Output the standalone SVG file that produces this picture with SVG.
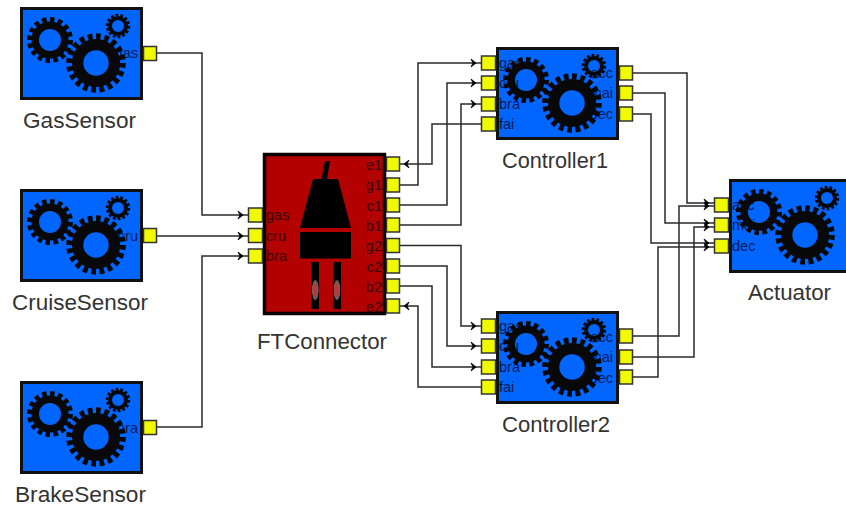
<svg xmlns="http://www.w3.org/2000/svg" width="846" height="507" viewBox="0 0 846 507">
<style>
text{font-family:"Liberation Sans",Arial,sans-serif}
.blue{fill:#0066ff;stroke:#111;stroke-width:3}
.red{fill:#b30000;stroke:#0a0000;stroke-width:3.5}
.port{fill:#f0fa00;stroke:#333;stroke-width:1.5}
.name{font-size:22px;fill:#333}
.pl{font-size:14.5px;fill:#001a55}
.pr{font-size:14.5px;fill:#001a55;text-anchor:end}
.fl{font-size:14.5px;fill:#3a0000}
.fr{font-size:14.5px;fill:#3a0000;text-anchor:end}
.wire{fill:none;stroke:#2a2a2a;stroke-width:1.5}
.arr{marker-end:url(#arrow)}
.ring{fill:none;stroke:#080808}
</style>
<defs>
<marker id="arrow" markerUnits="userSpaceOnUse" markerWidth="14" markerHeight="12" refX="11" refY="6" orient="auto">
<path d="M1 2 L6 6 L1 10 L3 6 Z" fill="#000" stroke="#000" stroke-width="0.8"/>
</marker>
<radialGradient id="glow">
<stop offset="0" stop-color="#d03030"/>
<stop offset="0.5" stop-color="#a84040"/>
<stop offset="0.8" stop-color="#706060"/>
<stop offset="1" stop-color="#000"/>
</radialGradient>
<g id="gears">
<circle class="ring" cx="30" cy="33" r="14.8" stroke-width="7.6"/>
<circle class="ring" cx="30" cy="33" r="20.5" stroke-width="5" pathLength="32" stroke-dasharray="1.15 0.85"/>
<circle class="ring" cx="76" cy="56" r="18.4" stroke-width="11.4"/>
<circle class="ring" cx="76" cy="56" r="26.5" stroke-width="6.600" pathLength="40" stroke-dasharray="1.15 0.85"/>
<circle class="ring" cx="98" cy="19" r="8" stroke-width="4"/>
<circle class="ring" cx="98" cy="19" r="10.800" stroke-width="2.800" pathLength="28" stroke-dasharray="1.15 0.85"/>
</g>
</defs>
<g id="connectors">
<path class="wire arr" d="M156 53H202V215H248"/>
<path class="wire arr" d="M156 236H248"/>
<path class="wire arr" d="M156 427H202V256H248"/>
<path class="wire arr" d="M481 124H432V164H399"/>
<path class="wire arr" d="M399 185H418V63H481"/>
<path class="wire arr" d="M399 205H447V83H481"/>
<path class="wire arr" d="M399 225H461V104H481"/>
<path class="wire arr" d="M399 245.500H461V326H481"/>
<path class="wire arr" d="M399 266H447V346H481"/>
<path class="wire arr" d="M399 286H432V367H481"/>
<path class="wire arr" d="M481 387H418V306H399"/>
<path class="wire arr" d="M632 73H687V203H714"/>
<path class="wire arr" d="M632 93H665V223H714"/>
<path class="wire arr" d="M632 114H651V243H714"/>
<path class="wire arr" d="M632 336H679V206H714"/>
<path class="wire arr" d="M632 357H694V227H714"/>
<path class="wire arr" d="M632 377H658V247H714"/>
</g>
<g id="GasSensor">
<rect class="blue" x="21.500" y="8.500" width="120" height="90"/>
<text class="pr" x="138" y="58">gas</text>
<use href="#gears" x="20" y="7"/>
<rect class="port" x="143.500" y="46.500" width="13" height="14"/>
<text class="name" x="23" y="128" textLength="113" lengthAdjust="spacingAndGlyphs">GasSensor</text>
</g>
<g id="CruiseSensor">
<rect class="blue" x="21.500" y="190.500" width="120" height="90"/>
<text class="pr" x="138" y="241">cru</text>
<use href="#gears" x="20" y="189"/>
<rect class="port" x="143.500" y="228.500" width="13" height="14"/>
<text class="name" x="12" y="310" textLength="136" lengthAdjust="spacingAndGlyphs">CruiseSensor</text>
</g>
<g id="BrakeSensor">
<rect class="blue" x="21.500" y="382.500" width="120" height="90"/>
<text class="pr" x="138" y="433">bra</text>
<use href="#gears" x="20" y="381"/>
<rect class="port" x="143.500" y="420.500" width="13" height="14"/>
<text class="name" x="15" y="502" textLength="131" lengthAdjust="spacingAndGlyphs">BrakeSensor</text>
</g>
<g id="FTConnector">
<rect class="red" x="264.500" y="154.500" width="120" height="159"/>
<path d="M325 161H330L327 179H321.500Z" fill="#000"/>
<path d="M313 179H338L351 228H300Z" fill="#000"/>
<rect x="300" y="232" width="51" height="26.500" fill="#000"/>
<rect x="311.500" y="262" width="7.500" height="47" fill="#000"/>
<rect x="333.500" y="262" width="7.500" height="47" fill="#000"/>
<ellipse cx="315.300" cy="290" rx="3.700" ry="11" fill="url(#glow)"/>
<ellipse cx="337" cy="290" rx="3.700" ry="11" fill="url(#glow)"/>
<text class="fl" x="266" y="220">gas</text>
<text class="fl" x="266" y="241">cru</text>
<text class="fl" x="266" y="261">bra</text>
<text class="fr" x="382" y="170">e1</text>
<text class="fr" x="382" y="190">g1</text>
<text class="fr" x="382" y="211">c1</text>
<text class="fr" x="382" y="231">b1</text>
<text class="fr" x="382" y="251">g2</text>
<text class="fr" x="382" y="272">c2</text>
<text class="fr" x="382" y="292">b2</text>
<text class="fr" x="382" y="312">e2</text>
<rect class="port" x="248.500" y="208" width="14" height="14"/>
<rect class="port" x="248.500" y="228.500" width="14" height="14"/>
<rect class="port" x="248.500" y="249" width="14" height="14"/>
<rect class="port" x="386.500" y="157" width="13" height="14"/>
<rect class="port" x="386.500" y="178" width="13" height="14"/>
<rect class="port" x="386.500" y="198" width="13" height="14"/>
<rect class="port" x="386.500" y="218" width="13" height="14"/>
<rect class="port" x="386.500" y="238.500" width="13" height="14"/>
<rect class="port" x="386.500" y="259" width="13" height="14"/>
<rect class="port" x="386.500" y="279" width="13" height="14"/>
<rect class="port" x="386.500" y="299" width="13" height="14"/>
<text class="name" x="257" y="349" textLength="130" lengthAdjust="spacingAndGlyphs">FTConnector</text>
</g>
<g id="Controller1">
<rect class="blue" x="497.500" y="48.500" width="120" height="90"/>
<text class="pl" x="499" y="68">gas</text>
<text class="pl" x="499" y="88">cru</text>
<text class="pl" x="499" y="109">bra</text>
<text class="pl" x="499" y="129">fai</text>
<text class="pr" x="613" y="78">acc</text>
<text class="pr" x="613" y="98">mai</text>
<text class="pr" x="613" y="119">dec</text>
<use href="#gears" x="496" y="47"/>
<rect class="port" x="481.500" y="56" width="14" height="14"/>
<rect class="port" x="481.500" y="76" width="14" height="14"/>
<rect class="port" x="481.500" y="97" width="14" height="14"/>
<rect class="port" x="481.500" y="117" width="14" height="14"/>
<rect class="port" x="619.500" y="66" width="13" height="14"/>
<rect class="port" x="619.500" y="86" width="13" height="14"/>
<rect class="port" x="619.500" y="107" width="13" height="14"/>
<text class="name" x="502" y="168" textLength="106" lengthAdjust="spacingAndGlyphs">Controller1</text>
</g>
<g id="Controller2">
<rect class="blue" x="497.500" y="312.500" width="120" height="90"/>
<text class="pl" x="499" y="331">gas</text>
<text class="pl" x="499" y="351">cru</text>
<text class="pl" x="499" y="372">bra</text>
<text class="pl" x="499" y="392">fai</text>
<text class="pr" x="613" y="342">acc</text>
<text class="pr" x="613" y="362">mai</text>
<text class="pr" x="613" y="383">dec</text>
<use href="#gears" x="496" y="311"/>
<rect class="port" x="481.500" y="319" width="14" height="14"/>
<rect class="port" x="481.500" y="339" width="14" height="14"/>
<rect class="port" x="481.500" y="360" width="14" height="14"/>
<rect class="port" x="481.500" y="380" width="14" height="14"/>
<rect class="port" x="619.500" y="329" width="13" height="14"/>
<rect class="port" x="619.500" y="350" width="13" height="14"/>
<rect class="port" x="619.500" y="370" width="13" height="14"/>
<text class="name" x="502" y="432" textLength="108" lengthAdjust="spacingAndGlyphs">Controller2</text>
</g>
<g id="Actuator">
<rect class="blue" x="730.500" y="180.500" width="120" height="91"/>
<text class="pl" x="732" y="210">acc</text>
<text class="pl" x="732" y="230">mai</text>
<text class="pl" x="732" y="251">dec</text>
<use href="#gears" x="729" y="179"/>
<rect class="port" x="714.500" y="198" width="14" height="14"/>
<rect class="port" x="714.500" y="218" width="14" height="14"/>
<rect class="port" x="714.500" y="239" width="14" height="14"/>
<text class="name" x="748" y="300" textLength="83" lengthAdjust="spacingAndGlyphs">Actuator</text>
</g>
</svg>
